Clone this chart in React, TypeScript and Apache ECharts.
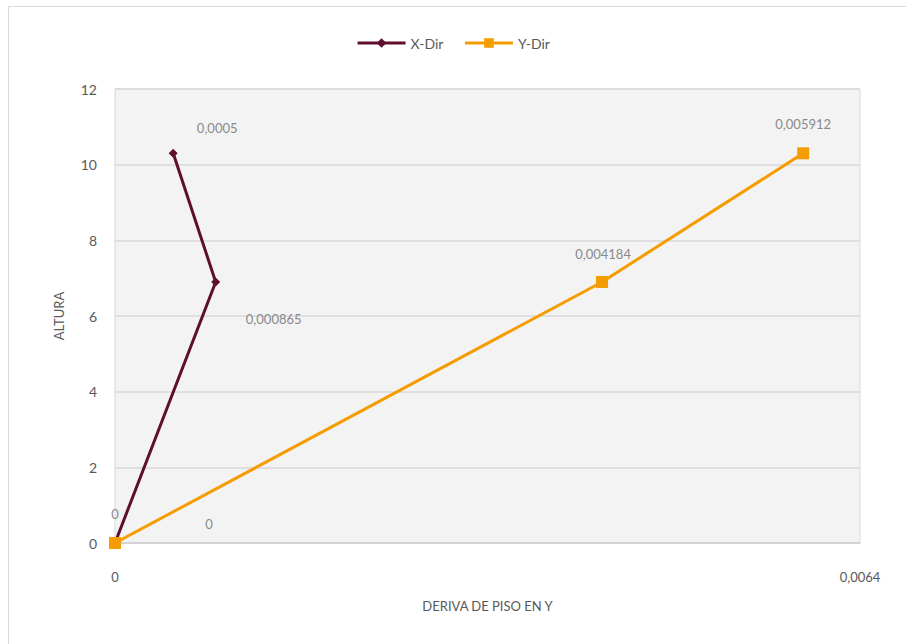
import React, { useEffect, useRef } from "react";
import * as echarts from "echarts";

const seriesNames = ["X-Dir", "Y-Dir"];
const heights = [0, 6.9, 10.3];
const xDirDrift = [0, 0.000865, 0.0005];
const yDirDrift = [0, 0.004184, 0.005912];
const xDirLabels = ["0", "0,000865", "0,0005"];
const yDirLabels = ["0", "0,004184", "0,005912"];
const xTicks = [0, 0.0064];
const yTicks = [0, 2, 4, 6, 8, 10, 12];

const xDirLabelOffsets = [[0, -29], [58, 37], [44, -25]];
const yDirLabelOffsets = [[94, -19], [1, -28], [0, -29]];

const FONT = "Lato, 'Open Sans', sans-serif";

export default function App() {
  const ref = useRef<HTMLDivElement>(null);
  useEffect(() => {
    if (!ref.current) return;
    const chart = echarts.init(ref.current, undefined, { renderer: "svg" });
    const mk = (xs: number[], labels: string[], offs: number[][]) =>
      xs.map((x, i) => ({
        value: [x, heights[i]],
        label: {
          show: true,
          position: "inside",
          offset: offs[i],
          formatter: labels[i],
          color: "#8a8a8a",
          fontSize: 13,
          fontFamily: FONT,
        },
      }));
    chart.setOption({
      animation: false,
      backgroundColor: "#ffffff",
      textStyle: { fontFamily: FONT },
      graphic: [
        {
          type: "rect",
          shape: { x: 8.5, y: 6.5, width: 920, height: 660 },
          style: { fill: "none", stroke: "#d9d9d9", lineWidth: 1 },
          silent: true,
        },
      ],
      legend: {
        top: 31,
        left: "center",
        itemWidth: 48,
        itemHeight: 12,
        itemGap: 20,
        itemStyle: { borderWidth: 0 },
        lineStyle: { width: 3 },
        textStyle: { color: "#595959", fontSize: 14, fontFamily: FONT },
        data: seriesNames,
      },
      grid: {
        left: 115,
        top: 89,
        width: 745,
        height: 454,
        show: true,
        backgroundColor: "#f3f3f3",
        borderColor: "#d9d9d9",
        borderWidth: 1,
      },
      xAxis: {
        type: "value",
        min: xTicks[0],
        max: xTicks[xTicks.length - 1],
        interval: xTicks[1] - xTicks[0],
        name: "DERIVA DE PISO EN Y",
        nameLocation: "middle",
        nameGap: 56,
        nameTextStyle: { color: "#595959", fontSize: 13, fontFamily: FONT },
        axisLine: { show: true, lineStyle: { color: "#d0d0d0", width: 1.5 } },
        axisTick: { show: false },
        splitLine: { show: false },
        axisLabel: {
          color: "#595959",
          fontSize: 13,
          margin: 27,
          fontFamily: FONT,
          formatter: (v: number) => String(v).replace(".", ","),
        },
      },
      yAxis: {
        type: "value",
        min: yTicks[0],
        max: yTicks[yTicks.length - 1],
        interval: 2,
        name: "ALTURA",
        nameLocation: "middle",
        nameGap: 50,
        nameTextStyle: { color: "#595959", fontSize: 13, fontFamily: FONT },
        axisLine: { show: false },
        axisTick: { show: false },
        splitLine: { show: true, lineStyle: { color: "#d9d9d9", width: 1.5 } },
        axisLabel: { color: "#595959", fontSize: 14, margin: 18, fontFamily: FONT },
      },
      series: [
        {
          name: seriesNames[0],
          type: "line",
          data: mk(xDirDrift, xDirLabels, xDirLabelOffsets),
          symbol: "diamond",
          symbolSize: 9,
          lineStyle: { color: "#5e0f2e", width: 3 },
          itemStyle: { color: "#5e0f2e" },
          z: 3,
        },
        {
          name: seriesNames[1],
          type: "line",
          data: mk(yDirDrift, yDirLabels, yDirLabelOffsets),
          symbol: "rect",
          symbolSize: 12,
          lineStyle: { color: "#f59c00", width: 3 },
          itemStyle: { color: "#f59c00" },
          z: 4,
        },
      ],
    });
    return () => chart.dispose();
  }, []);
  return (
    <div
      ref={ref}
      style={{ position: "fixed", left: 0, top: 0, width: 906, height: 644 }}
    />
  );
}
